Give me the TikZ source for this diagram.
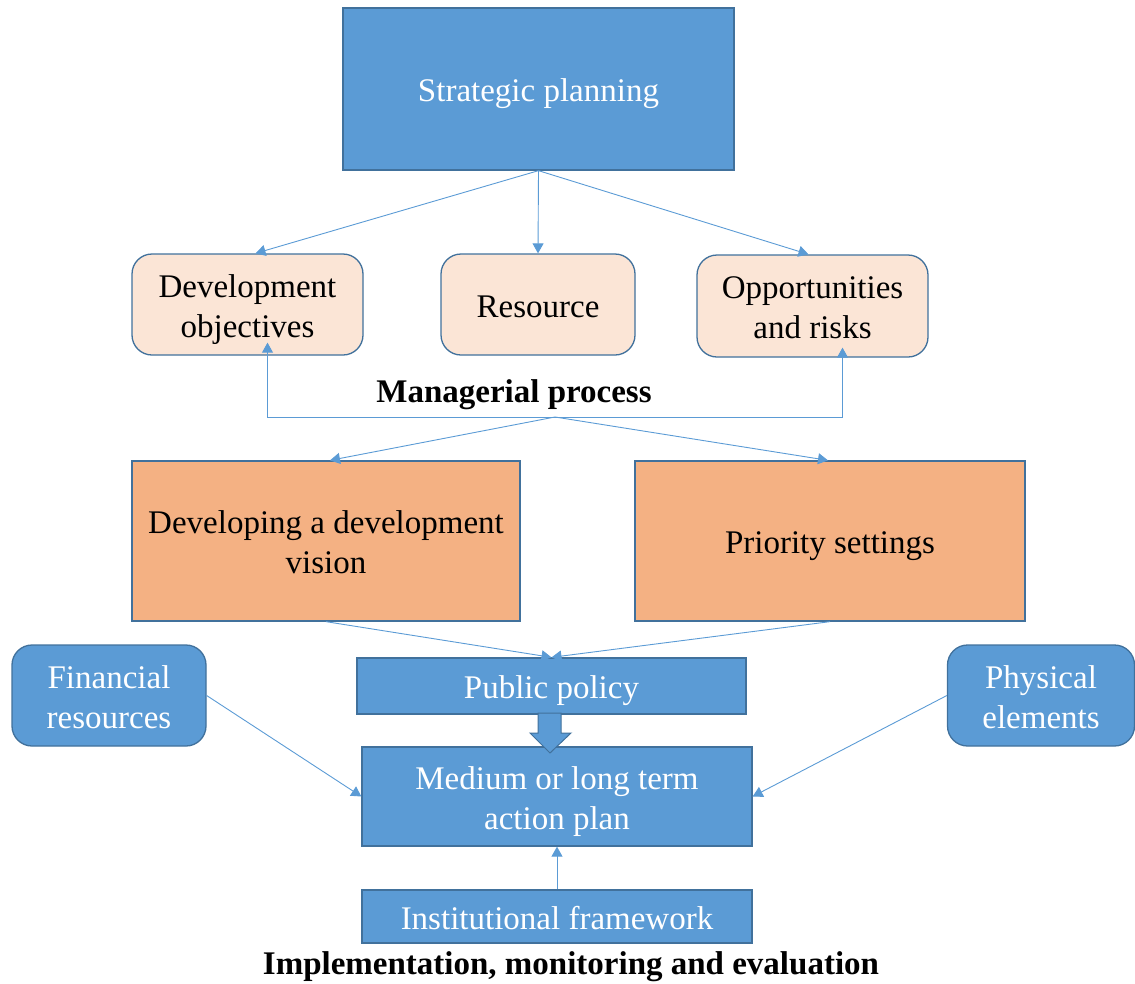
\documentclass[tikz,border=0pt]{standalone}
\usepackage{fontspec}
\setmainfont{Liberation Serif}
\usetikzlibrary{arrows.meta,calc}
\definecolor{bfill}{HTML}{5B9BD5}
\definecolor{bdraw}{HTML}{41719C}
\definecolor{peach}{HTML}{FBE5D6}
\definecolor{orng}{HTML}{F4B183}
\definecolor{acol}{HTML}{5B9BD5}
\newcommand\ms{\rule[-7.5pt]{0pt}{40pt}}
\tikzset{
  txt/.style={align=center,font=\fontsize{33}{40}\selectfont},
  box/.style={txt,draw=bdraw,line width=1.3pt,inner sep=0pt},
  bluebox/.style={box,fill=bfill,text=white},
  peachbox/.style={box,fill=peach,text=black,rounded corners=20pt},
  orangebox/.style={box,fill=orng,text=black},
  bluerbox/.style={bluebox,rounded corners=20pt},
  conn/.style={draw=acol,line width=0.9pt,-{Triangle[width=11pt,length=10pt]}},
  lbl/.style={txt,font=\fontsize{33}{40}\selectfont\bfseries,text=black,inner sep=0pt}
}
\begin{document}
\begin{tikzpicture}[x=1pt,y=-1pt]
\useasboundingbox (0,0) rectangle (1135,983);
\node[bluebox,minimum width=391pt,minimum height=162pt] (strat) at (538.5,89) {\ms Strategic planning};
\node[peachbox,minimum width=231pt,minimum height=101pt] (devobj) at (247.5,304.5) {\ms Development\\objectives\ms};
\node[peachbox,minimum width=194pt,minimum height=101pt] (res) at (538,304.5) {\ms Resource};
\node[peachbox,minimum width=231pt,minimum height=102pt] (opp) at (812.5,306) {\ms Opportunities\\and risks\ms};
\node[lbl] (mgr) at (514,389.5) {\ms Managerial process};
\coordinate (mp) at (555,417);
\node[orangebox,minimum width=388pt,minimum height=160pt] (vision) at (326,541) {\ms Developing a development\\vision\ms};
\node[orangebox,minimum width=390pt,minimum height=160pt] (prio) at (830,541) {\ms Priority settings};
\node[bluebox,minimum width=389pt,minimum height=56pt] (pp) at (551.5,686) {\ms Public policy};
\node[bluebox,minimum width=390pt,minimum height=99pt] (plan) at (557,796.5) {\ms Medium or long term\\action plan\ms};
\node[bluerbox,minimum width=194pt,minimum height=101pt] (fin) at (109,695.5) {\ms Financial\\resources\ms};
\node[bluerbox,minimum width=187pt,minimum height=101pt] (phys) at (1041,695.5) {\ms Physical\\elements\ms};
\node[bluebox,minimum width=390pt,minimum height=53pt] (inst) at (557,916.5) {\ms Institutional framework};
\node[lbl] (impl) at (571,961.5) {\ms Implementation, monitoring and evaluation};
% connectors
\draw[conn] (strat.south) -- ($(devobj.north)+(8,0)$);
\draw[conn] (strat.south) -- (res.north);
\draw[conn] (strat.south) -- ($(opp.north)+(-4,0)$);
\draw[conn] (mp) -| ($(devobj.south)+(20,-13)$);
\draw[conn] (mp) -| ($(opp.south)+(30,-10)$);
\draw[conn] (mp) -- ($(vision.north)+(4,0)$);
\draw[conn] (mp) -- ($(prio.north)+(-2,0)$);
\draw[conn] (vision.south) -- (pp.north);
\draw[conn] (prio.south) -- (pp.north);
\draw[conn] (fin.east) -- (plan.west);
\draw[conn] (phys.west) -- (plan.east);
\draw[conn] (inst.north) -- (plan.south);
% block arrow
\draw[draw=bdraw,fill=bfill,line width=1pt] (538,713) -- (561,713) -- (561,733) -- (571,733) -- (550,753) -- (530,733) -- (538,733) -- cycle;
\end{tikzpicture}
\end{document}
